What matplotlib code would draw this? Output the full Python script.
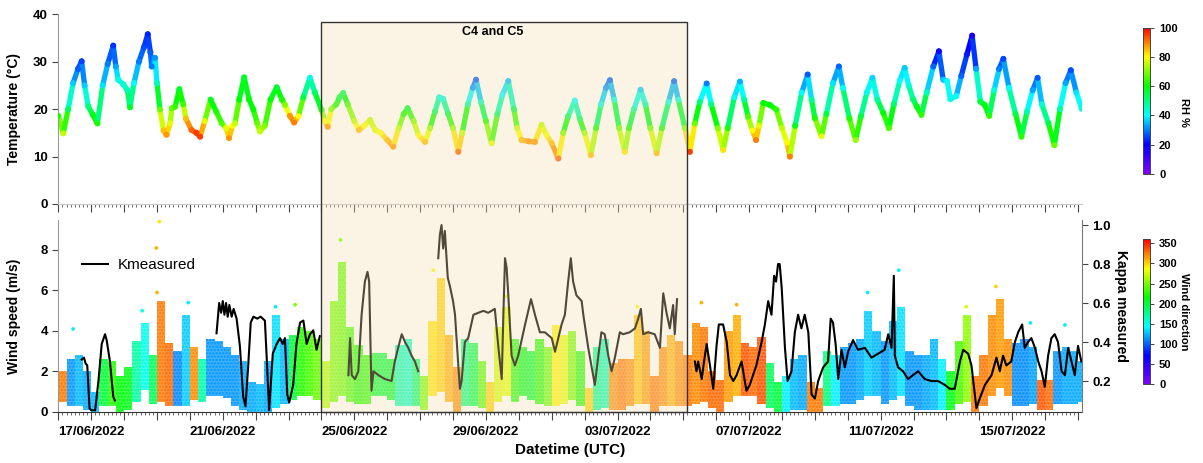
import numpy as np
import matplotlib.pyplot as plt
import matplotlib.dates as mdates
from matplotlib.collections import LineCollection
from matplotlib.colors import LinearSegmentedColormap, Normalize
from matplotlib.cm import ScalarMappable
from matplotlib.patches import Rectangle
from matplotlib.ticker import MultipleLocator, FuncFormatter

plt.rcParams['font.family'] = ['Liberation Sans', 'DejaVu Sans']
plt.rcParams['font.weight'] = 'bold'
plt.rcParams['axes.labelweight'] = 'bold'
plt.rcParams['hatch.linewidth'] = 1.2

# ---- data (time in days since 16/06/2022 00:00 UTC) ----
temp_day = [0.00, 0.15, 0.30, 0.45, 0.60, 0.71, 0.80, 0.91,
            1.05, 1.19, 1.35, 1.50, 1.67, 1.75, 1.82, 1.98,
            2.10, 2.18, 2.30, 2.45, 2.60, 2.72, 2.80, 2.84, 2.94,
            3.00, 3.09, 3.20, 3.29, 3.40, 3.45, 3.55, 3.68, 3.80, 3.88,
            4.05, 4.20, 4.31, 4.45, 4.63, 4.80, 4.97,
            5.10, 5.19, 5.30, 5.37, 5.50, 5.65, 5.80, 5.93,
            6.05, 6.13, 6.28, 6.45, 6.64, 6.80, 6.89,
            7.04, 7.17, 7.30, 7.45, 7.65, 7.80,
            8.00, 8.10, 8.19, 8.30, 8.45, 8.55, 8.66, 8.80,
            9.00, 9.14, 9.30, 9.48, 9.63, 9.80,
            10.00, 10.18, 10.35, 10.50, 10.62, 10.80, 10.95,
            11.15, 11.30, 11.45, 11.58, 11.70, 11.85,
            12.00, 12.16, 12.28, 12.45, 12.60, 12.70, 12.85,
            13.00, 13.17, 13.35, 13.50, 13.68, 13.85, 13.95,
            14.08, 14.30, 14.49, 14.69, 14.85,
            15.00, 15.20, 15.35, 15.50, 15.70, 15.85,
            16.00, 16.19, 16.35, 16.50, 16.65, 16.77, 16.90,
            17.05, 17.22, 17.35, 17.50, 17.70, 17.85,
            18.00, 18.19, 18.35, 18.55, 18.72, 18.85,
            19.05, 19.20, 19.35, 19.50, 19.71, 19.85,
            20.05, 20.21, 20.35, 20.55, 20.72, 20.85, 20.97,
            21.10, 21.21, 21.30, 21.43, 21.63, 21.83,
            22.00, 22.15, 22.24, 22.40, 22.60, 22.78, 22.90,
            23.00, 23.20, 23.35, 23.55, 23.73, 23.85,
            24.05, 24.24, 24.40, 24.58, 24.75, 24.90,
            25.08, 25.25, 25.40, 25.58, 25.73, 25.85, 25.99,
            26.10, 26.24, 26.40, 26.60, 26.77, 26.90,
            27.02, 27.12, 27.30, 27.45, 27.62, 27.78, 27.90,
            28.03, 28.16, 28.30, 28.45, 28.60, 28.73, 28.90,
            29.10, 29.28, 29.45, 29.62, 29.77, 29.90,
            30.10, 30.28, 30.45, 30.62, 30.78, 30.95, 31.11]

temp_c = [18.6, 14.9, 20.0, 25.5, 28.5, 30.1, 25.0, 20.6,
          18.8, 17.0, 25.0, 29.5, 33.4, 29.0, 26.2, 25.2,
          24.0, 20.4, 25.5, 30.0, 33.0, 35.8, 32.0, 29.0, 30.8,
          25.5, 19.9, 15.5, 14.6, 17.0, 20.2, 20.5, 24.2, 21.0, 18.0,
          15.6, 15.0, 14.2, 17.5, 22.0, 19.5, 17.0,
          16.0, 13.9, 16.5, 17.0, 22.0, 26.7, 22.0, 19.9,
          17.0, 15.3, 16.5, 22.0, 24.6, 22.0, 20.9,
          18.6, 17.2, 18.5, 22.5, 26.6, 23.5,
          19.9, 17.5, 16.3, 20.0, 21.0, 22.5, 23.4, 21.0,
          17.5, 15.6, 16.5, 17.7, 15.6, 15.0,
          13.5, 12.1, 16.0, 19.0, 20.2, 17.5, 14.5,
          13.1, 16.0, 19.5, 22.5, 22.2, 19.0,
          16.0, 11.0, 15.0, 21.0, 24.5, 26.2, 21.5,
          17.5, 12.8, 19.0, 23.0, 25.9, 20.0, 16.0,
          13.5, 13.2, 13.1, 16.7, 14.5,
          12.8, 9.6, 15.0, 18.5, 21.8, 18.0,
          15.0, 10.3, 16.0, 21.0, 24.5, 26.1, 22.0,
          16.0, 11.0, 16.0, 20.0, 24.1, 21.0,
          16.0, 10.7, 16.0, 21.5, 25.9, 22.0,
          16.0, 11.0, 17.0, 21.5, 25.4, 21.0,
          16.0, 11.4, 16.0, 22.5, 25.8, 22.0, 18.4,
          15.5, 13.5, 16.5, 21.3, 20.9, 19.9,
          16.0, 13.0, 10.0, 16.5, 23.5, 27.3, 22.0,
          18.1, 14.3, 19.0, 25.5, 29.0, 24.5,
          18.0, 13.5, 18.5, 23.5, 26.6, 22.0,
          19.2, 16.0, 21.0, 26.0, 28.7, 25.0, 22.0,
          20.5, 18.8, 23.5, 29.0, 32.2, 26.2,
          25.9, 22.1, 22.8, 27.0, 31.5, 35.5, 28.5,
          21.6, 20.9, 18.6, 24.0, 28.5, 30.6, 24.5,
          19.0, 14.2, 19.5, 24.0, 26.6, 21.0,
          17.0, 12.4, 20.0, 25.5, 28.2, 23.5, 20.1]

rh_pct = [62, 75, 52, 36, 27, 25, 36, 50,
          58, 62, 38, 30, 24, 33, 42, 44,
          46, 58, 40, 30, 26, 23, 27, 30, 32,
          45, 68, 85, 88, 78, 68, 64, 57, 65, 85,
          92, 95, 95, 78, 58, 62, 66,
          78, 88, 80, 75, 60, 56, 60, 60,
          68, 75, 70, 60, 56, 62, 70,
          88, 90, 80, 55, 42, 52,
          62, 80, 88, 70, 62, 56, 54, 65,
          75, 85, 80, 75, 78, 80,
          85, 88, 75, 62, 56, 70, 80,
          85, 72, 52, 42, 42, 55,
          72, 92, 75, 48, 32, 27, 45,
          62, 78, 52, 40, 35, 55, 75,
          85, 88, 88, 75, 80,
          85, 92, 70, 52, 40, 52,
          72, 85, 62, 42, 32, 28, 42,
          68, 82, 62, 48, 36, 48,
          68, 85, 62, 42, 28, 42,
          70, 95, 68, 50, 30, 50,
          70, 82, 62, 42, 34, 48, 66,
          80, 90, 78, 60, 60, 63,
          75, 80, 90, 58, 40, 27, 48,
          62, 78, 55, 38, 28, 40,
          62, 72, 55, 42, 37, 48,
          60, 66, 52, 40, 36, 43, 52,
          58, 64, 45, 28, 18, 36,
          40, 42, 40, 28, 22, 16, 33,
          55, 58, 63, 43, 30, 25, 40,
          55, 63, 46, 33, 27, 43,
          55, 68, 48, 33, 26, 38, 43]

# wind speed spread per 6-hour block: low, high (m/s) and prevailing direction (deg)
wind_lo = [0.5, 0.3, 0.3, 0.1, 0.0, 0.3, 0.3, 0.0,
           0.1, 0.5, 1.1, 0.4, 0.5, 0.3, 0.3, 0.3,
           0.6, 0.5, 0.8, 0.8, 0.7, 0.3, 0.1, 0.0,
           0.0, 0.0, 0.2, 0.4, 0.6, 0.8, 0.8, 0.6,
           0.2, 0.5, 0.8, 0.5, 0.4, 0.4, 0.8, 0.8,
           0.6, 0.3, 0.3, 0.3, 0.1, 0.8, 1.0, 0.5,
           0.0, 0.3, 0.3, 0.2, 0.0, 0.5, 0.8, 0.5,
           0.8, 0.6, 0.4, 0.3, 0.3, 0.4, 0.6, 0.3,
           0.0, 0.1, 0.2, 0.1, 0.1, 0.3, 0.4, 0.4,
           0.0, 0.3, 0.3, 0.3, 0.3, 0.4, 0.5, 0.2,
           0.0, 0.5, 0.8, 0.8, 0.8, 0.4, 0.2, 0.0,
           0.0, 0.1, 0.1, 0.0, 0.0, 0.3, 0.3, 0.4,
           0.4, 0.6, 0.8, 0.8, 0.4, 0.6, 0.8, 0.3,
           0.1, 0.1, 0.1, 0.1, 0.1, 0.4, 0.5, 0.0,
           0.3, 0.8, 1.2, 0.8, 0.3, 0.3, 0.4, 0.1,
           0.1, 0.4, 0.4, 0.4, 0.5]
wind_hi = [2.0, 2.6, 2.8, 2.0, 1.0, 2.6, 2.5, 1.8,
           2.2, 3.5, 4.4, 2.8, 5.5, 3.4, 3.0, 4.8,
           3.2, 2.6, 3.6, 3.5, 3.2, 2.8, 2.5, 1.5,
           1.4, 2.5, 4.8, 3.6, 3.8, 4.2, 4.0, 3.6,
           2.5, 5.5, 7.4, 4.2, 3.3, 2.8, 2.9, 2.9,
           2.6, 3.3, 3.6, 2.6, 1.8, 4.5, 6.6, 3.8,
           2.2, 3.6, 3.4, 2.5, 1.5, 4.2, 5.2, 3.6,
           3.2, 3.0, 3.6, 3.2, 4.3, 3.8, 4.0, 3.0,
           1.2, 3.2, 3.6, 2.4, 2.6, 2.6, 4.8, 4.0,
           1.8, 3.2, 3.8, 3.5, 2.8, 4.4, 4.2, 2.0,
           1.6, 4.0, 4.8, 3.4, 3.2, 3.7, 2.4, 1.5,
           1.8, 2.6, 2.8, 1.5, 1.2, 3.0, 2.8, 3.2,
           3.4, 3.6, 5.0, 4.0, 3.5, 4.5, 5.2, 3.0,
           2.8, 2.8, 3.6, 2.6, 2.0, 3.5, 4.8, 1.8,
           2.8, 4.8, 5.6, 3.6, 3.4, 3.6, 3.2, 1.6,
           1.6, 3.0, 3.2, 3.0, 2.5]
wind_dir = [325, 115, 125, 120, 125, 200, 225, 215,
            210, 170, 150, 190, 325, 330, 110, 130,
            320, 170, 115, 115, 115, 115, 120, 120,
            125, 120, 135, 125, 200, 225, 235, 245,
            265, 250, 245, 235, 225, 230, 205, 200,
            205, 165, 160, 185, 250, 295, 300, 310,
            320, 180, 195, 240, 300, 275, 280, 225,
            210, 205, 225, 245, 290, 280, 250, 225,
            300, 175, 165, 320, 325, 320, 305, 315,
            325, 320, 310, 320, 325, 320, 325, 330,
            330, 315, 310, 335, 330, 335, 190, 200,
            140, 125, 120, 325, 325, 180, 140, 115,
            115, 120, 130, 125, 115, 125, 135, 115,
            115, 120, 125, 140, 210, 235, 255, 325,
            325, 320, 315, 320, 112, 112, 118, 335,
            330, 115, 120, 120, 120]

# isolated gusts above the bulk of the points
gust_day = [0.45, 2.55, 2.98, 3.07, 3.00, 3.95, 6.60, 7.20, 8.58, 11.40,
            13.60, 17.60, 19.55, 20.62, 24.60, 25.55, 27.60, 28.50, 29.55, 30.60]
gust_ws = [4.1, 5.0, 8.1, 9.4, 5.9, 5.4, 5.2, 5.3, 8.5, 7.0,
           5.7, 5.2, 5.4, 5.3, 5.9, 7.0, 5.2, 6.2, 4.4, 4.3]
gust_dir = [140, 150, 310, 295, 310, 140, 140, 250, 250, 285,
            280, 285, 310, 310, 140, 140, 275, 300, 140, 140]

nan = np.nan
kappa_day = [0.71, 0.78, 0.83, 0.88, 0.95, 1.00, 1.12, 1.22, 1.32, 1.42, 1.47, 1.57, 1.67, 1.72, 1.73,
             4.81, 4.89, 4.95, 5.00, 5.05, 5.10, 5.15, 5.20, 5.27, 5.33, 5.42, 5.52, 5.62, 5.69,
             5.77, 5.85, 5.93, 6.05, 6.15, 6.28, 6.33, 6.41, 6.52, 6.64, 6.74, 6.82, 6.89, 6.96,
             7.02, 7.14, 7.24, 7.35, 7.45, 7.55, 7.65, 7.75, 7.85, 7.95, 7.96,
             8.82, 8.87, 8.92, 9.02, 9.12, 9.22, 9.32, 9.40, 9.45, 9.52, 9.58, 9.73, 9.93,
             10.13, 10.23, 10.33, 10.44, 10.54, 10.64, 10.74, 10.84, 10.94, 10.95,
             11.55, 11.60, 11.65, 11.70, 11.75, 11.84, 11.90, 12.00, 12.06, 12.16, 12.21,
             12.26, 12.36, 12.46, 12.62, 12.77, 12.92, 13.07, 13.27, 13.38, 13.48, 13.53,
             13.58, 13.63, 13.68, 13.78, 13.88, 13.98, 14.19, 14.37, 14.49, 14.64, 14.79,
             15.00, 15.10, 15.30, 15.40, 15.50, 15.58, 15.65, 15.75, 15.91, 15.96, 16.11,
             16.31, 16.41, 16.51, 16.61, 16.72, 16.82, 16.92, 17.07, 17.17, 17.37, 17.53,
             17.63, 17.71, 17.78, 17.93, 18.13, 18.29, 18.39, 18.49, 18.59, 18.69, 18.74,
             18.81, 18.82,
             19.35, 19.40, 19.45, 19.56, 19.63, 19.71, 19.81, 19.91, 20.01, 20.08, 20.21,
             20.32, 20.42, 20.52, 20.62, 20.77, 20.92, 21.02, 21.12, 21.22, 21.38, 21.48,
             21.58, 21.68, 21.76, 21.82, 21.88, 21.93, 21.99, 22.09, 22.17, 22.29, 22.39,
             22.49, 22.59, 22.69, 22.80, 22.90, 23.00, 23.10, 23.25, 23.40, 23.48, 23.55,
             23.63, 23.71, 23.81, 23.91, 24.01, 24.16, 24.31, 24.52, 24.72, 24.92, 25.12,
             25.23, 25.33, 25.40, 25.43, 25.53, 25.68, 25.83, 25.98, 26.14, 26.34, 26.54,
             26.74, 26.95, 27.10, 27.25, 27.41, 27.51, 27.66, 27.76, 27.91, 28.01, 28.17,
             28.37, 28.52, 28.62, 28.72, 28.82, 28.97, 29.08, 29.18, 29.30, 29.38, 29.48,
             29.58, 29.69, 29.79, 29.89, 29.99, 30.09, 30.19, 30.29, 30.39, 30.50, 30.60,
             30.70, 30.80, 30.90, 31.00, 31.10]
kappa_val = [0.31, 0.32, 0.29, 0.28, 0.06, 0.05, 0.05, 0.20, 0.39, 0.44, 0.41, 0.30, 0.12, 0.10, nan,
             0.445, 0.60, 0.55, 0.61, 0.54, 0.60, 0.53, 0.59, 0.53, 0.57, 0.52, 0.38, 0.12, 0.07,
             0.27, 0.50, 0.53, 0.52, 0.53, 0.51, 0.34, 0.05, 0.34, 0.39, 0.42, 0.39, 0.42, 0.13,
             0.09, 0.18, 0.39, 0.50, 0.51, 0.39, 0.44, 0.46, 0.36, 0.43, nan,
             0.23, 0.42, 0.23, 0.21, 0.25, 0.54, 0.71, 0.76, 0.71, 0.15, 0.25, 0.23, 0.21,
             0.20, 0.30, 0.37, 0.44, 0.40, 0.37, 0.33, 0.30, 0.25, nan,
             0.83, 0.95, 1.00, 0.88, 0.97, 0.73, 0.69, 0.61, 0.54, 0.28, 0.16,
             0.20, 0.40, 0.42, 0.54, 0.55, 0.56, 0.55, 0.57, 0.37, 0.21, 0.54,
             0.83, 0.78, 0.64, 0.33, 0.28, 0.33, 0.49, 0.62, 0.54, 0.45, 0.45,
             0.42, 0.35, 0.49, 0.54, 0.71, 0.83, 0.71, 0.64, 0.61, 0.54, 0.37,
             0.18, 0.32, 0.45, 0.44, 0.33, 0.25, 0.32, 0.45, 0.44, 0.45, 0.47,
             0.52, 0.57, 0.44, 0.45, 0.44, 0.37, 0.65, 0.55, 0.47, 0.59, 0.44,
             0.62, nan,
             0.30, 0.25, 0.30, 0.21, 0.30, 0.39, 0.28, 0.16, 0.38, 0.49, 0.49,
             0.40, 0.23, 0.20, 0.23, 0.30, 0.15, 0.18, 0.23, 0.28, 0.40, 0.49,
             0.61, 0.54, 0.74, 0.71, 0.80, 0.80, 0.68, 0.37, 0.20, 0.25, 0.45,
             0.54, 0.47, 0.54, 0.45, 0.13, 0.11, 0.20, 0.27, 0.30, 0.52, 0.50,
             0.39, 0.21, 0.36, 0.27, 0.35, 0.41, 0.36, 0.37, 0.32, 0.34, 0.36,
             0.44, 0.37, 0.74, 0.33, 0.27, 0.25, 0.21, 0.23, 0.25, 0.21, 0.20,
             0.20, 0.18, 0.16, 0.16, 0.30, 0.36, 0.34, 0.28, 0.06, 0.11, 0.18,
             0.23, 0.32, 0.25, 0.33, 0.28, 0.30, 0.40, 0.45, 0.49, 0.37, 0.40,
             0.42, 0.37, 0.30, 0.25, 0.17, 0.33, 0.42, 0.44, 0.40, 0.25, 0.23,
             0.37, 0.30, 0.23, 0.38, 0.30]

campaign_span = (8.0, 19.125)   # C4 and C5 period, days

# ---- colours ----
rainbow = LinearSegmentedColormap.from_list(
    'origin_rainbow',
    [(0.0, '#8000ff'), (0.2, '#0000ff'), (0.4, '#00ffff'),
     (0.6, '#00ff00'), (0.8, '#ffff00'), (1.0, '#ff0000')])
rh_norm = Normalize(0, 100)
wd_norm = Normalize(0, 360)

t0 = mdates.date2num(np.datetime64('2022-06-16T00:00'))
x_end = t0 + 31.12

W, H = 1203, 463
fig = plt.figure(figsize=(W / 100, H / 100), dpi=100)


def px_rect(x0, y0, x1, y1):
    return [x0 / W, 1 - y1 / H, (x1 - x0) / W, (y1 - y0) / H]


ax_t = fig.add_axes(px_rect(58.3, 14.3, 1082, 204))
ax_b = fig.add_axes(px_rect(58.3, 220, 1082, 412))
ax_k = ax_b.twinx()
cax_rh = fig.add_axes(px_rect(1143, 27.7, 1150, 173.7))
cax_wd = fig.add_axes(px_rect(1143, 239.3, 1150, 384.3))

# temperature coloured by RH: segments take the mean RH, vertices the measured RH
tt = t0 + np.array(temp_day)
pts = np.column_stack([tt, temp_c])
segs = np.stack([pts[:-1], pts[1:]], axis=1)
rh = np.array(rh_pct, dtype=float)
lc = LineCollection(segs, cmap=rainbow, norm=rh_norm, linewidths=3.8,
                    capstyle='round', joinstyle='round')
lc.set_array((rh[:-1] + rh[1:]) / 2)
ax_t.add_collection(lc)
ax_t.scatter(tt, temp_c, c=rh, cmap=rainbow, norm=rh_norm, s=19, linewidths=0, zorder=3)
ax_t.set_ylim(0, 40)
ax_t.set_yticks([0, 10, 20, 30, 40])

# wind speed clouds coloured by direction (lighter fill with dotted texture)
lo = np.array(wind_lo)
hi = np.array(wind_hi)
starts = t0 + 0.25 * np.arange(len(lo))
wcol = rainbow(wd_norm(np.array(wind_dir)))
pale = wcol.copy()
pale[:, :3] = 1 - 0.75 * (1 - wcol[:, :3])
ax_b.bar(starts, hi - lo, bottom=lo, width=0.25, align='edge',
         facecolor=pale, edgecolor=wcol, hatch='.....', linewidth=0, zorder=1)
ax_b.scatter(t0 + np.array(gust_day), gust_ws, c=gust_dir, cmap=rainbow, norm=wd_norm,
             s=7, linewidths=0, zorder=2)
ax_b.set_ylim(0, 9.48)
ax_b.set_yticks([0, 2, 4, 6, 8])

# kappa
line_k, = ax_k.plot(t0 + np.array(kappa_day), kappa_val, color='black', lw=1.5,
                    label='Kmeasured')
ax_k.set_ylim(0.041, 1.026)
ax_k.set_yticks([0.2, 0.4, 0.6, 0.8, 1.0])
ax_k.set_ylabel('Kappa measured', rotation=270, fontsize=10)
ax_k.yaxis.set_label_coords(1.045, 0.55)
ax_k.legend(handles=[line_k], loc='center left', bbox_to_anchor=(0.01, 0.766),
            frameon=False, handlelength=1.7, handletextpad=0.6,
            prop={'weight': 'normal', 'size': 11})

# x axis: day ticks, labels every 4 days
lab0 = t0 + 1


def day_label(x, pos):
    k = int(round(x - lab0))
    if abs(x - round(x)) < 1e-6 and k % 4 == 0:
        return mdates.num2date(x).strftime('%d/%m/%Y')
    return ''


for ax in (ax_t, ax_b):
    ax.set_xlim(t0, x_end)
    ax.xaxis.set_major_locator(MultipleLocator(1))
    ax.xaxis.set_minor_locator(MultipleLocator(0.125))
    ax.tick_params(axis='x', which='major', length=6, width=0.8, colors='#444444')
    ax.tick_params(axis='x', which='minor', length=2.5, width=0.6, colors='#555555')
    ax.tick_params(axis='y', length=4, width=0.8, colors='#444444', labelsize=9.5)
    ax.tick_params(axis='both', labelcolor='black')
    ax.spines['top'].set_visible(False)
    ax.spines['right'].set_visible(False)
    ax.spines['left'].set_color('#999999')
ax_t.spines['bottom'].set_color('#c8c8c8')
ax_b.spines['bottom'].set_color('#333333')
ax_t.xaxis.set_major_formatter(FuncFormatter(lambda x, p: ''))
ax_b.xaxis.set_major_formatter(FuncFormatter(day_label))
ax_b.tick_params(axis='x', labelsize=9.5, pad=4)
ax_k.set_xlim(t0, x_end)
for s in ('top', 'left', 'bottom'):
    ax_k.spines[s].set_visible(False)
ax_k.spines['right'].set_color('#777777')
ax_k.tick_params(axis='y', length=4, width=0.8, colors='#444444', labelcolor='black',
                 labelsize=9.5)

ax_t.set_ylabel('Temperature (°C)', fontsize=10)
ax_t.yaxis.set_label_coords(-0.036, 0.5)
ax_b.set_ylabel('Wind speed (m/s)', fontsize=10)
ax_b.yaxis.set_label_coords(-0.036, 0.5)
ax_b.set_xlabel('Datetime (UTC)', fontsize=11, labelpad=4)

# colour bars
cb_rh = fig.colorbar(ScalarMappable(rh_norm, rainbow), cax=cax_rh, ticks=[0, 20, 40, 60, 80, 100])
cb_wd = fig.colorbar(ScalarMappable(wd_norm, rainbow), cax=cax_wd,
                     ticks=[0, 50, 100, 150, 200, 250, 300, 350])
for cb, lab in ((cb_rh, 'RH %'), (cb_wd, 'Wind direction')):
    cb.outline.set_edgecolor('#444444')
    cb.outline.set_linewidth(0.7)
    cb.ax.tick_params(length=3, width=0.7, colors='#444444', labelcolor='black', labelsize=8)
    cb.set_label(lab, rotation=270, fontsize=8)
cb_rh.ax.yaxis.set_label_coords(6.6, 0.42)
cb_wd.ax.yaxis.set_label_coords(6.6, 0.5)

# shaded campaign period across both panels
to_fig = fig.transFigure.inverted()
xa = to_fig.transform(ax_t.transData.transform((t0 + campaign_span[0], 0)))[0]
xb = to_fig.transform(ax_t.transData.transform((t0 + campaign_span[1], 0)))[0]
y_bot = ax_b.get_position().y0
y_top = 1 - 22 / H
fig.add_artist(Rectangle((xa, y_bot), xb - xa, y_top - y_bot, transform=fig.transFigure,
                         facecolor='#f5deb3', alpha=0.33, edgecolor='none', zorder=5))
fig.add_artist(Rectangle((xa, y_bot), xb - xa, y_top - y_bot, transform=fig.transFigure,
                         facecolor='none', edgecolor='#333333', linewidth=1.0, zorder=6))
fig.text(493 / W, 1 - 32 / H, 'C4 and C5', ha='center', va='center', fontsize=9,
         fontweight='bold', zorder=7)

fig.savefig('out.png', dpi=100)
